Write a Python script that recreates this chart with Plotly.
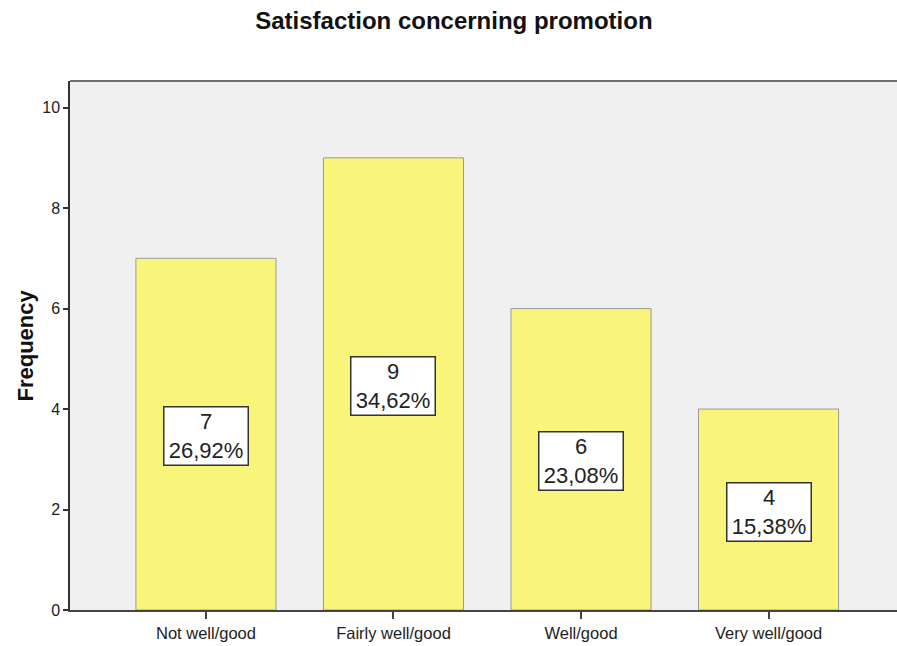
import plotly.graph_objects as go

categories = ["Not well/good", "Fairly well/good", "Well/good", "Very well/good"]
frequencies = [7, 9, 6, 4]
percent_labels = ["26,92%", "34,62%", "23,08%", "15,38%"]
y_ticks = [0, 2, 4, 6, 8, 10]

FONT = "Liberation Sans, Arial, sans-serif"

fig = go.Figure()
fig.add_trace(go.Bar(
    x=list(range(len(categories))),
    y=frequencies,
    width=0.747,
    marker=dict(color="#F8F57A", line=dict(color="#9A9A9A", width=1)),
    hoverinfo="skip",
))

for i, (f, p) in enumerate(zip(frequencies, percent_labels)):
    fig.add_annotation(
        x=i, y=f / 2, xref="x", yref="y", yshift=-2,
        text=f"{f}<br>{p}", width=83, height=57,
        showarrow=False, align="center", valign="middle",
        font=dict(family=FONT, size=22, color="#222222"),
        bgcolor="white", bordercolor="#333333", borderwidth=1.5, borderpad=0,
    )

fig.add_shape(type="line", xref="paper", yref="paper", x0=0, x1=1, y0=1, y1=1,
              line=dict(color="#707070", width=2))

# y-axis title
fig.add_annotation(
    xref="paper", yref="paper", x=0, y=0.5, xanchor="center", yanchor="middle",
    xshift=-45, textangle=-90, showarrow=False,
    text="<b>Frequency</b>",
    font=dict(family=FONT, size=22, color="#111111"),
)

fig.update_layout(
    width=897, height=646,
    margin=dict(l=70, r=0, t=81, b=36),
    paper_bgcolor="white",
    plot_bgcolor="#F0F0F0",
    showlegend=False,
    title=dict(text="<b>Satisfaction concerning promotion</b>", xref="container", x=0.506,
               xanchor="center", yref="container", y=1 - 21 / 646, yanchor="middle",
               font=dict(family=FONT, size=24, color="#111111")),
    font=dict(family=FONT, color="#222222"),
)

fig.update_xaxes(
    range=[-0.725, 3.685],
    tickmode="array", tickvals=list(range(len(categories))), ticktext=categories,
    ticks="outside", ticklen=7, tickwidth=1.5, tickcolor="#444444",
    showline=True, linecolor="#444444", linewidth=1.5,
    showgrid=False, zeroline=False,
    tickfont=dict(family=FONT, size=16.5, color="#222222"),
)
fig.update_yaxes(
    range=[0, 10.53],
    tickmode="array", tickvals=y_ticks,
    ticks="outside", ticklen=5, tickwidth=1.5, tickcolor="#333333",
    showline=True, linecolor="#333333", linewidth=1.5,
    showgrid=False, zeroline=False,
    tickfont=dict(family=FONT, size=16, color="#222222"),
)

fig.write_html("out.html")
